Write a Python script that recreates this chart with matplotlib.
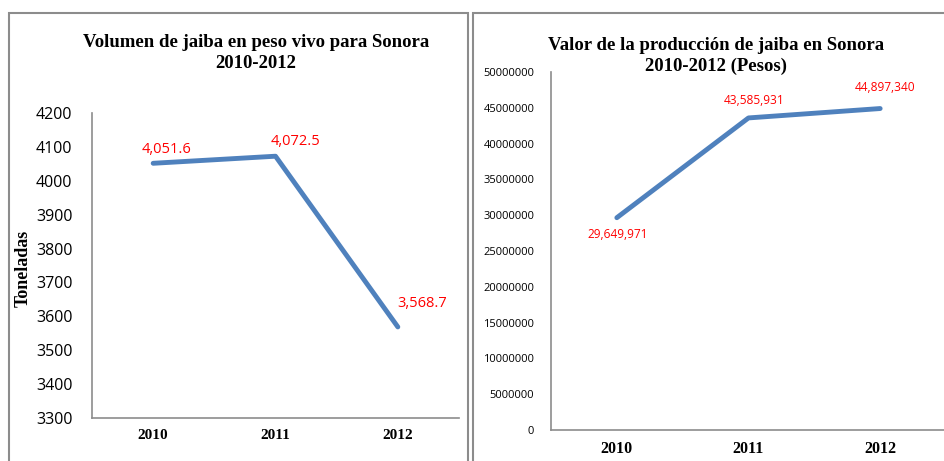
import matplotlib.pyplot as plt
from matplotlib.patches import Rectangle

years = ['2010', '2011', '2012']
volumen = [4051.6, 4072.5, 3568.7]
volumen_labels = ['4,051.6', '4,072.5', '3,568.7']
valor = [29649971, 43585931, 44897340]
valor_labels = ['29,649,971', '43,585,931', '44,897,340']

W, H = 945, 461
line_color = '#4F81BD'
serif = 'Liberation Serif'
sans = 'Open Sans'

fig = plt.figure(figsize=(W / 100, H / 100), dpi=100)


def box(x0, y0, x1, y1):
    return [x0 / W, 1 - y1 / H, (x1 - x0) / W, (y1 - y0) / H]


# chart frames
for x0, x1 in [(9, 468), (473, 960)]:
    fig.patches.append(Rectangle((x0 / W, -0.1), (x1 - x0) / W, 1 - 13 / H + 0.1,
                                 transform=fig.transFigure, fill=False,
                                 edgecolor='#8c8c8c', linewidth=1.5))

# Volumen
ax1 = fig.add_axes(box(92, 113, 459, 418))
x = range(len(years))
ax1.plot(x, volumen, color=line_color, linewidth=3.5, solid_capstyle='round')
ax1.set_xlim(-0.5, 2.5)
ax1.set_ylim(3300, 4200)
ax1.set_yticks(range(3300, 4201, 100))
ax1.set_xticks(list(x))
ax1.set_xticklabels(years, fontfamily=serif, fontweight='bold', fontsize=11)
ax1.tick_params(axis='y', labelsize=11.5, length=0, pad=14)
ax1.tick_params(axis='x', length=0, pad=8)
for lab in ax1.get_yticklabels():
    lab.set_fontfamily(sans)
for s in ['top', 'right']:
    ax1.spines[s].set_visible(False)
for s in ['left', 'bottom']:
    ax1.spines[s].set_color('#8c8c8c')
    ax1.spines[s].set_linewidth(1.2)
offsets1 = [(0.11, 18), (0.16, 21), (0.2, 47)]
for i, (v, t) in enumerate(zip(volumen, volumen_labels)):
    dx, dy = offsets1[i]
    ax1.text(i + dx, v + dy, t, color='red', fontsize=10.5, fontfamily=sans,
             ha='center', va='bottom')
fig.text(256 / W, 1 - 53 / H, 'Volumen de jaiba en peso vivo para Sonora\n2010-2012',
         ha='center', va='center', fontfamily=serif, fontweight='bold', fontsize=13.5,
         linespacing=1.3)
fig.text(23 / W, 1 - 268 / H, 'Toneladas', rotation=90, ha='center', va='center',
         fontfamily=serif, fontweight='bold', fontsize=13)

# Valor
ax2 = fig.add_axes(box(551, 72, 946, 430))
ax2.plot(x, valor, color=line_color, linewidth=3.5, solid_capstyle='round')
ax2.set_xlim(-0.5, 2.5)
ax2.set_ylim(0, 50000000)
ax2.set_yticks(range(0, 50000001, 5000000))
ax2.set_yticklabels([str(v) for v in range(0, 50000001, 5000000)])
ax2.set_xticks(list(x))
ax2.set_xticklabels(years, fontfamily=serif, fontweight='bold', fontsize=11.5)
ax2.tick_params(axis='y', labelsize=8, length=0, pad=12)
ax2.tick_params(axis='x', length=0, pad=8)
for lab in ax2.get_yticklabels():
    lab.set_fontfamily(sans)
for s in ['top', 'right']:
    ax2.spines[s].set_visible(False)
for s in ['left', 'bottom']:
    ax2.spines[s].set_color('#8c8c8c')
    ax2.spines[s].set_linewidth(1.2)
offsets2 = [(0.01, -1400000, 'top'), (0.04, 1500000, 'bottom'), (0.04, 2000000, 'bottom')]
for i, (v, t) in enumerate(zip(valor, valor_labels)):
    dx, dy, va = offsets2[i]
    ax2.text(i + dx, v + dy, t, color='red', fontsize=8.6, fontfamily=sans,
             ha='center', va=va)
fig.text(716 / W, 1 - 56 / H, 'Valor de la producción de jaiba en Sonora\n2010-2012 (Pesos)',
         ha='center', va='center', fontfamily=serif, fontweight='bold', fontsize=13.5,
         linespacing=1.3)

fig.savefig('out.png', dpi=100)
